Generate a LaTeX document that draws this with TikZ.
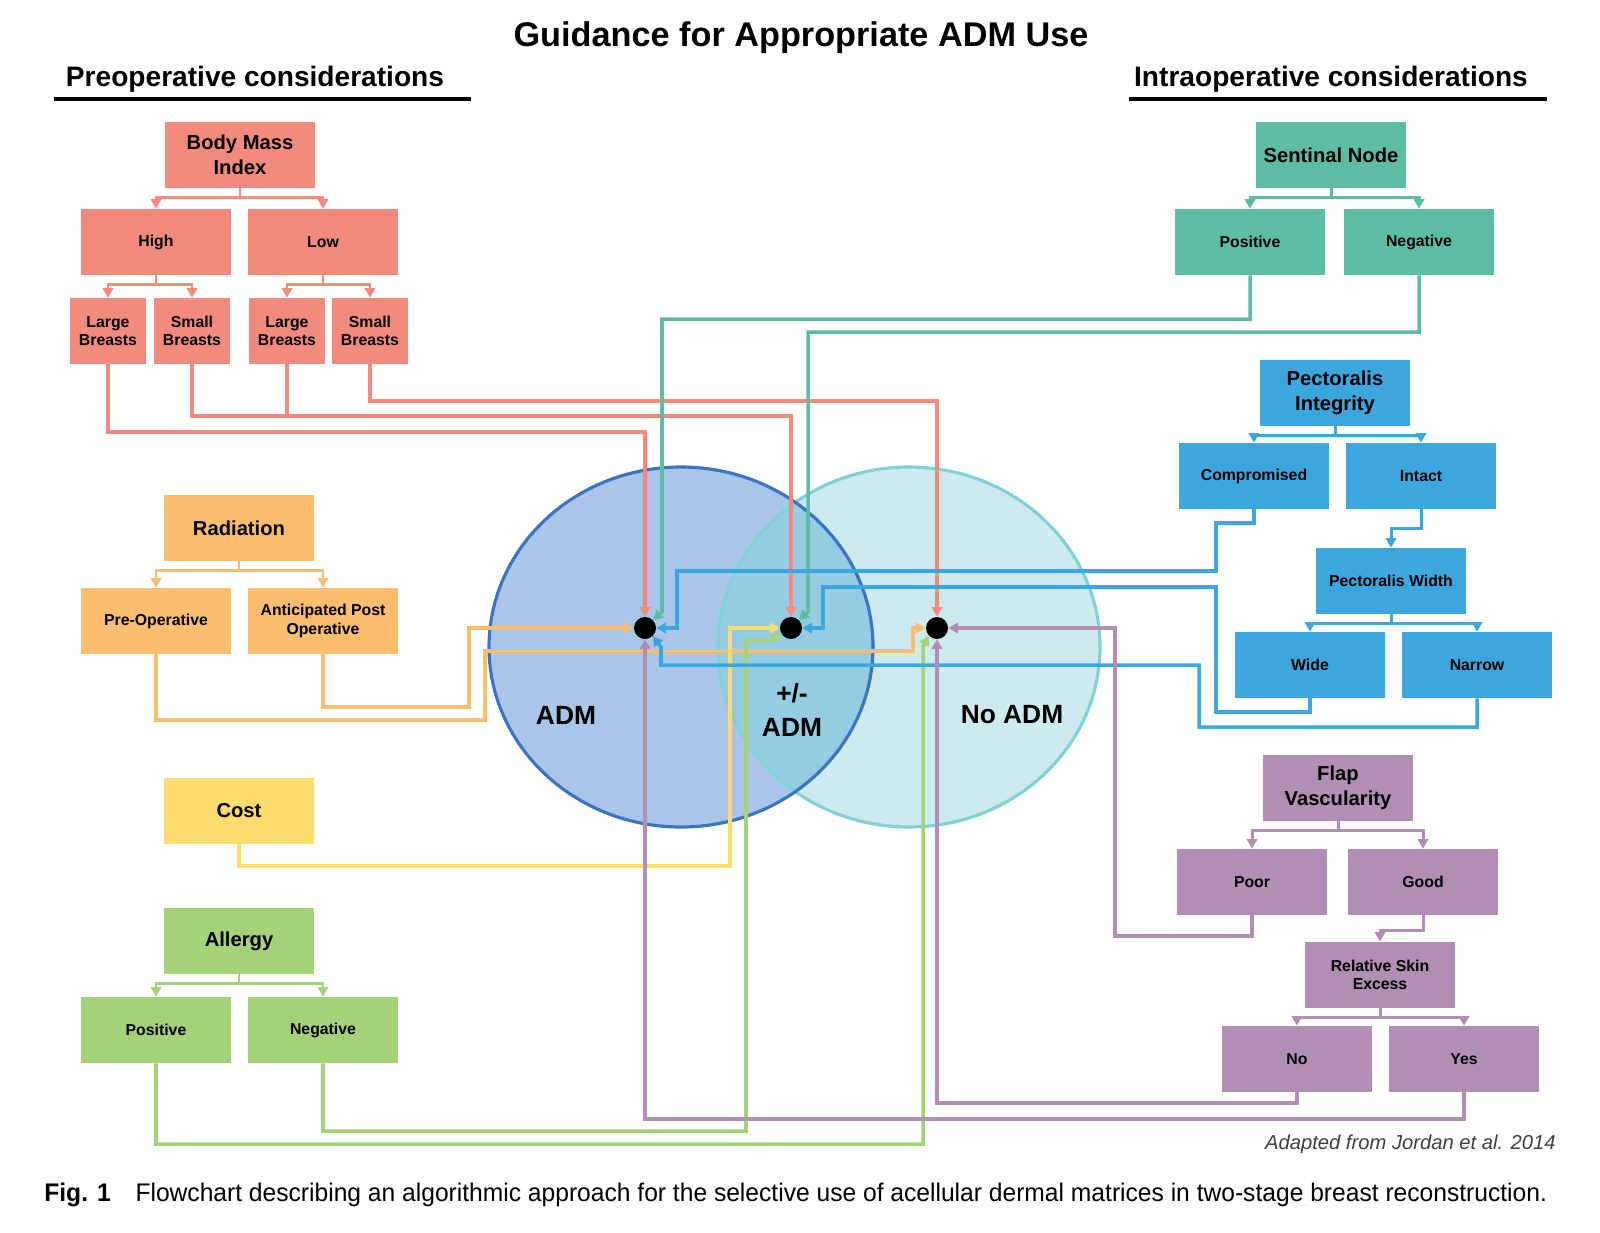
\documentclass[tikz,border=0pt]{standalone}
\usepackage{fontspec}
\setmainfont{Liberation Sans}
\usepackage{graphicx}
\usetikzlibrary{arrows.meta}

\definecolor{bmired}{HTML}{F28B7E}
\definecolor{radorange}{HTML}{FBBD6E}
\definecolor{costyellow}{HTML}{FDDB6C}
\definecolor{allgreen}{HTML}{A4D279}
\definecolor{nodeteal}{HTML}{5DBCA4}
\definecolor{pecblue}{HTML}{3CA6DE}
\definecolor{flappurple}{HTML}{B18EB3}
\definecolor{admfill}{HTML}{A9C6E8}
\definecolor{admline}{HTML}{3D74C2}
\definecolor{noadmfill}{HTML}{CDEBEE}
\definecolor{noadmline}{HTML}{80D2D6}
\definecolor{bothfill}{HTML}{95CCE1}

\begin{document}
\begin{tikzpicture}[
    x=0.02cm, y=-0.02cm,
    >={Triangle[length=5.5pt,width=6pt]},
    box/.style={
      fill=#1, minimum width=3cm, minimum height=1.32cm, inner sep=1pt,
      align=center, font=\fontsize{9}{10.6}\selectfont\bfseries
    },
    rootbox/.style={box=#1, font=\fontsize{11.5}{14}\selectfont\bfseries},
    leafbox/.style={box=#1, minimum width=1.54cm},
    link/.style={draw=#1, line width=2pt, ->},
    hub/.style={circle, fill=black, minimum size=0.44cm, inner sep=0pt},
    venntext/.style={align=center, font=\fontsize{15}{19}\selectfont\bfseries},
    ]
    \useasboundingbox (0,0) rectangle (1600,1232);

    % ── Headings ─────────────────────────────────────────────────────
    \node[font=\fontsize{19.5}{22}\selectfont\bfseries] (title) at (801,38) {Guidance for Appropriate ADM Use};
    \node[font=\fontsize{16}{18}\selectfont\bfseries] (prehead) at (255,79) {Preoperative considerations};
    \node[font=\fontsize{16}{18}\selectfont\bfseries] (intrahead) at (1331,79) {Intraoperative considerations};
    \draw[line width=2.2pt] (54,99) -- (471,99);
    \draw[line width=2.2pt] (1129,99) -- (1547,99);

    % ── Venn circles ─────────────────────────────────────────────────
    \fill[noadmfill] (909,647) ellipse [x radius=191, y radius=180];
    \fill[admfill] (681,647) ellipse [x radius=192, y radius=180];
    \begin{scope}
      \clip (681,647) ellipse [x radius=192, y radius=180];
      \fill[bothfill] (909,647) ellipse [x radius=191, y radius=180];
    \end{scope}
    \draw[noadmline, line width=1.8pt] (909,647) ellipse [x radius=191, y radius=180];
    \draw[admline, line width=1.8pt] (681,647) ellipse [x radius=192, y radius=180];

    \node[venntext] (admtext) at (566,715) {ADM};
    \node[venntext] (pmtext) at (792,710) {+/-\\ADM};
    \node[venntext] (noadmtext) at (1012,715) {No ADM};

    \node[hub] (adm) at (645,628) {};
    \node[hub] (pm) at (791,628) {};
    \node[hub] (noadm) at (937,628) {};

    % ── Preoperative trees ───────────────────────────────────────────
    \node[rootbox=bmired] (bmi) at (240,155) {Body Mass\\Index};
    \node[box=bmired] (high) at (156,242) {High};
    \node[box=bmired] (low) at (323,242) {Low};
    \node[leafbox=bmired] (hilarge) at (108,331) {Large\\Breasts};
    \node[leafbox=bmired] (hismall) at (192,331) {Small\\Breasts};
    \node[leafbox=bmired] (lolarge) at (287,331) {Large\\Breasts};
    \node[leafbox=bmired] (losmall) at (370,331) {Small\\Breasts};

    \node[rootbox=radorange] (rad) at (239,528) {Radiation};
    \node[box=radorange] (radpre) at (156,621) {Pre-Operative};
    \node[box=radorange] (radpost) at (323,621) {Anticipated Post\\Operative};

    \node[rootbox=costyellow] (cost) at (239,811) {Cost};

    \node[rootbox=allgreen] (allergy) at (239,941) {Allergy};
    \node[box=allgreen] (allpos) at (156,1030) {Positive};
    \node[box=allgreen] (allneg) at (323,1030) {Negative};

    % ── Intraoperative trees ─────────────────────────────────────────
    \node[rootbox=nodeteal] (sentinal) at (1331,155) {Sentinal Node};
    \node[box=nodeteal] (snpos) at (1250,242) {Positive};
    \node[box=nodeteal] (snneg) at (1419,242) {Negative};

    \node[rootbox=pecblue] (pecint) at (1335,393) {Pectoralis\\Integrity};
    \node[box=pecblue] (comp) at (1254,476) {Compromised};
    \node[box=pecblue] (intact) at (1421,476) {Intact};
    \node[box=pecblue] (pecwidth) at (1391,581) {Pectoralis Width};
    \node[box=pecblue] (wide) at (1310,665) {Wide};
    \node[box=pecblue] (narrow) at (1477,665) {Narrow};

    \node[rootbox=flappurple] (flap) at (1338,788) {Flap\\Vascularity};
    \node[box=flappurple] (poor) at (1252,882) {Poor};
    \node[box=flappurple] (good) at (1423,882) {Good};
    \node[box=flappurple] (rse) at (1380,975) {Relative Skin\\Excess};
    \node[box=flappurple] (rsno) at (1297,1059) {No};
    \node[box=flappurple] (rsyes) at (1464,1059) {Yes};

    % tree brackets
    \foreach \up/\down/\col in {bmi/high/bmired, bmi/low/bmired,
        high/hilarge/bmired, high/hismall/bmired, low/lolarge/bmired, low/losmall/bmired,
        rad/radpre/radorange, rad/radpost/radorange,
        allergy/allpos/allgreen, allergy/allneg/allgreen,
        sentinal/snpos/nodeteal, sentinal/snneg/nodeteal,
        pecint/comp/pecblue, pecint/intact/pecblue,
        pecwidth/wide/pecblue, pecwidth/narrow/pecblue,
        flap/poor/flappurple, flap/good/flappurple,
        rse/rsno/flappurple, rse/rsyes/flappurple}
      \draw[link=\col, line width=1.7pt] (\up.south) -- ++(0,9) -| (\down.north);

    \draw[link=pecblue, line width=1.7pt] (intact.south) -- ++(0,19) -| (pecwidth.north);
    \draw[link=flappurple, line width=1.7pt] (good.south) -- ++(0,15) -| (rse.north);

    % ── Connectors to the hubs ───────────────────────────────────────
    \draw[link=bmired] (hilarge.south) |- (645,432) -- (adm);
    \draw[link=bmired] (hismall.south) |- (791,416) -- (pm);
    \draw[bmired, line width=2pt] (lolarge.south) -- (287,416);
    \draw[link=bmired] (losmall.south) |- (937,401) -- (noadm);

    \draw[link=nodeteal] (snpos.south) |- (662,319) -- (662,612) -- (adm.45);
    \draw[link=nodeteal] (snneg.south) |- (808,332) -- (808,612) -- (pm.45);

    \draw[link=radorange] (radpost.south) |- (469,707) -- (469,628) -- (adm);
    \draw[link=radorange] (radpre.south) |- (485,720) -- (485,651) -- (913,651) -- (913,628) -- (noadm);

    \draw[link=costyellow] (cost.south) |- (730,866) -- (730,628) -- (pm);

    \draw[link=allgreen] (allneg.south) |- (746,1131) -- (746,640) -- (770,640) -- (pm.210);
    \draw[link=allgreen] (allpos.south) |- (923,1144) -- (923,646) -- (noadm.225);

    \draw[link=pecblue] (comp.south) |- (1216,523) |- (677,571) |- (adm);
    \draw[link=pecblue] (wide.south) |- (1216,712) |- (823,587) |- (pm);
    \draw[link=pecblue] (narrow.south) |- (1199,727) |- (661,665) -- (661,647) -- (adm.-45);

    \draw[link=flappurple] (poor.south) |- (1115,936) |- (noadm);
    \draw[link=flappurple] (rsno.south) |- (937,1103) -- (noadm);
    \draw[link=flappurple] (rsyes.south) |- (645,1119) -- (adm);

    % ── Source and caption ───────────────────────────────────────────
    \node[anchor=east, inner sep=0pt, text=black!75, font=\fontsize{11.5}{13}\selectfont\itshape] (source) at (1556,1144)
      {Adapted from Jordan et al. 2014};
    \node[anchor=west, inner sep=0pt] (caption) at (44,1195)
      {\resizebox{30.06cm}{\height}{\fontsize{14.5}{16}\selectfont\textbf{Fig. 1}\quad Flowchart describing an algorithmic approach for the selective use of acellular dermal matrices in two-stage breast reconstruction.}};

\end{tikzpicture}
\end{document}
